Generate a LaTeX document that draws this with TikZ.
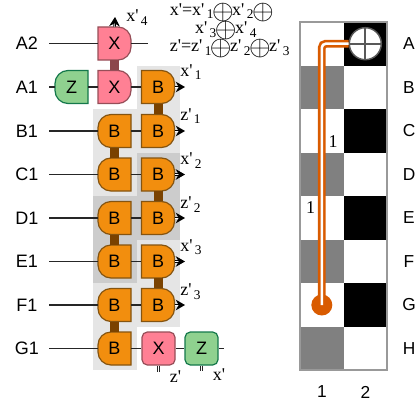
\documentclass[tikz,border=0pt]{standalone}
\usepackage{fontspec}
\setmainfont{Liberation Serif}
\setsansfont{Liberation Sans}
\usetikzlibrary{arrows.meta, calc}
\definecolor{gateorange}{RGB}{242, 142, 14}
\definecolor{edgeorange}{RGB}{133, 84, 16}
\definecolor{gatepink}{RGB}{255, 128, 148}
\definecolor{edgepink}{RGB}{150, 78, 88}
\definecolor{gategreen}{RGB}{143, 209, 143}
\definecolor{edgegreen}{RGB}{20, 120, 75}
\definecolor{barbrown}{RGB}{122, 66, 0}
\definecolor{barpink}{RGB}{140, 70, 75}
\definecolor{panellight}{RGB}{229, 229, 229}
\definecolor{paneldark}{RGB}{204, 204, 204}
\definecolor{cellgray}{RGB}{128, 128, 128}
\definecolor{routeorange}{RGB}{217, 91, 0}
\tikzset{
    gatetext/.style={minimum size=24.75pt, inner sep=0pt, font=\sffamily\fontsize{13.5}{15}\selectfont},
    orangegate/.style={draw=edgeorange, fill=gateorange, line width=0.9pt},
    pinkgate/.style={draw=edgepink, fill=gatepink, line width=0.9pt},
    greengate/.style={draw=edgegreen, fill=gategreen, line width=0.9pt},
    roundbox/.style={gatetext, rounded corners=4pt},
    rowlabel/.style={font=\sffamily\fontsize{13.5}{15}\selectfont, minimum width=33pt, inner sep=0pt},
    gridlabel/.style={font=\sffamily\fontsize{13}{15}\selectfont, inner sep=0pt},
    wire/.style={line width=0.9pt, color=black!85},
    outwire/.style={line width=0.7pt, double=white, double distance=0.4pt, color=black, -{Stealth[length=7pt, width=8pt]}},
    endwire/.style={line width=0.5pt, double=white, double distance=1pt, color=black!85},
    brownbar/.style={line width=6.75pt, color=barbrown},
    pinkbar/.style={line width=6.75pt, color=barpink},
    qubit/.style={font=\fontsize{13.5}{14}\selectfont, inner sep=0pt, anchor=base west},
    route/.style={line width=2pt, double=white, double distance=1.9pt, color=routeorange, rounded corners=3pt},
}
\newcommand{\pr}{\textquotesingle}
\newcommand{\qb}[2]{#1\pr\hspace{1.8pt}\raisebox{-0.45ex}{\fontsize{10}{12}\selectfont #2}}
\newcommand{\xor}{\hspace{-1.1pt}\smash{\raisebox{-0.5ex}{\scalebox{1.45}{$\oplus$}}}\hspace{-1.1pt}}
% gate with flat left side, round right side
\newcommand{\gateR}[4]{
    \path[#4] (#2) ++(-16.5,16.5) -- ++(20,0) arc[start angle=90, end angle=0, radius=13]
        -- ++(0,-7) arc[start angle=0, end angle=-90, radius=13] -- ++(-20,0) -- cycle;
    \node[gatetext] (#1) at (#2) {#3};
}
% gate with flat right side, round left side
\newcommand{\gateL}[4]{
    \path[#4] (#2) ++(16.5,16.5) -- ++(-20,0) arc[start angle=90, end angle=180, radius=13]
        -- ++(0,-7) arc[start angle=180, end angle=270, radius=13] -- ++(20,0) -- cycle;
    \node[gatetext] (#1) at (#2) {#3};
}
\begin{document}
\begin{tikzpicture}[x=0.75pt, y=0.75pt]
    \useasboundingbox (0,0) rectangle (420,408);

    % panels
    \fill[panellight] (137,342) rectangle (180,255);
    \fill[panellight] (93,299) rectangle (137,212);
    \fill[paneldark] (137,255) rectangle (180,168);
    \fill[paneldark] (93,212) rectangle (137,125);
    \fill[panellight] (137,168) rectangle (180,81);
    \fill[panellight] (93,125) rectangle (137,38);

    % row labels
    \node[rowlabel] (lA2) at (27,364.5) {A2};
    \node[rowlabel] (lA1) at (27,321) {A1};
    \node[rowlabel] (lB1) at (27,277) {B1};
    \node[rowlabel] (lC1) at (27,233.5) {C1};
    \node[rowlabel] (lD1) at (27,190) {D1};
    \node[rowlabel] (lE1) at (27,146.5) {E1};
    \node[rowlabel] (lF1) at (27,103) {F1};
    \node[rowlabel] (lG1) at (27,59.5) {G1};

    % gates
    \gateR{xa2}{114.5,364.5}{X}{pinkgate}
    \gateR{xa1}{114.5,321}{X}{pinkgate}
    \gateL{za1}{71.5,321}{Z}{greengate}
    \gateR{ba}{158,321}{B}{orangegate}
    \gateR{bb}{158,277}{B}{orangegate}
    \gateR{bc}{158,233.5}{B}{orangegate}
    \gateR{bd}{158,190}{B}{orangegate}
    \gateR{be}{158,146.5}{B}{orangegate}
    \gateR{bf}{158,103}{B}{orangegate}
    \gateL{cb}{114.5,277}{B}{orangegate}
    \gateL{cc}{114.5,233.5}{B}{orangegate}
    \gateL{cd}{114.5,190}{B}{orangegate}
    \gateL{ce}{114.5,146.5}{B}{orangegate}
    \gateL{cf}{114.5,103}{B}{orangegate}
    \gateL{cg}{114.5,59.5}{B}{orangegate}
    \node[roundbox, pinkgate] (xg) at (158.5,59.5) {X};
    \node[roundbox, greengate] (zg) at (201.5,59.5) {Z};

    % bars
    \draw[pinkbar] (xa2.south) -- (xa1.north);
    \draw[brownbar] (ba.south) -- (bb.north);
    \draw[brownbar] (cb.south) -- (cc.north);
    \draw[brownbar] (bc.south) -- (bd.north);
    \draw[brownbar] (cd.south) -- (ce.north);
    \draw[brownbar] (be.south) -- (bf.north);
    \draw[brownbar] (cf.south) -- (cg.north);

    % free wire ends
    \coordinate (a2out) at (148,364.5);
    \coordinate (a2top) at (115,391);
    \coordinate (o1) at (185,321);
    \coordinate (o2) at (185,277);
    \coordinate (o3) at (185,233.5);
    \coordinate (o4) at (185,190);
    \coordinate (o5) at (185,146.5);
    \coordinate (o6) at (185,103);
    \coordinate (gout) at (224,59.5);
    \coordinate (xend) at (158.5,36);
    \coordinate (zend) at (201.5,37.5);

    % wires
    \draw[wire] (lA2.east) -- (xa2.west);
    \draw[wire] (xa2.east) -- (a2out);
    \draw[wire] (lA1.east) -- (za1.west);
    \draw[wire] (za1.east) -- (xa1.west);
    \draw[wire] (xa1.east) -- (ba.west);
    \draw[wire] (lB1.east) -- (cb.west);
    \draw[wire] (cb.east) -- (bb.west);
    \draw[wire] (lC1.east) -- (cc.west);
    \draw[wire] (cc.east) -- (bc.west);
    \draw[wire] (lD1.east) -- (cd.west);
    \draw[wire] (cd.east) -- (bd.west);
    \draw[wire] (lE1.east) -- (ce.west);
    \draw[wire] (ce.east) -- (be.west);
    \draw[wire] (lF1.east) -- (cf.west);
    \draw[wire] (cf.east) -- (bf.west);
    \draw[wire] (lG1.east) -- (cg.west);
    \draw[wire] (cg.east) -- (xg.west);
    \draw[wire] (xg.east) -- (zg.west);
    \draw[wire] (zg.east) -- (gout);
    \draw[outwire] (xa2.north) -- (a2top);
    \draw[outwire] (ba.east) -- (o1);
    \draw[outwire] (bb.east) -- (o2);
    \draw[outwire] (bc.east) -- (o3);
    \draw[outwire] (bd.east) -- (o4);
    \draw[outwire] (be.east) -- (o5);
    \draw[outwire] (bf.east) -- (o6);
    \draw[endwire] (xg.south) -- (xend);
    \draw[endwire] (zg.south) -- (zend);

    % output labels
    \node[qubit] (x4) at (126,386) {\qb{x}{4}};
    \node[qubit] (x1) at (180,332) {\qb{x}{1}};
    \node[qubit] (z1) at (180,288) {\qb{z}{1}};
    \node[qubit] (x2) at (180,243.5) {\qb{x}{2}};
    \node[qubit] (z2) at (180,199.5) {\qb{z}{2}};
    \node[qubit] (x3) at (180,157) {\qb{x}{3}};
    \node[qubit] (z3) at (180,112.5) {\qb{z}{3}};
    \node[qubit] (zp) at (169.5,26) {z\pr};
    \node[qubit] (xp) at (212.5,28) {x\pr};

    % formula
    \node[font=\fontsize{13.5}{13.7}\selectfont, inner sep=0pt, align=left, anchor=north west] (formula) at (169.5,405) {x\pr=\qb{x}{1}\xor\qb{x}{2}\xor\\
        \hspace*{19pt}\qb{x}{3}\xor\qb{x}{4}\\
        z\pr=\qb{z}{1}\xor\qb{z}{2}\xor\qb{z}{3}};

    % grid
    \foreach \row/\rowy/\colA/\colB in {A/386/white/black, B/342.5/cellgray/white, C/299/white/black, D/255.5/cellgray/white, E/212/white/black, F/168.5/cellgray/white, G/125/white/black, H/81.5/cellgray/white}{
        \fill[\colA] (300,\rowy) rectangle ++(43.5,-43.5);
        \fill[\colB] (343.5,\rowy) rectangle ++(43.5,-43.5);
        \node[gridlabel] (row\row) at (409,\rowy-21.75) {\row};
    }
    \draw[black!40, line width=1pt] (300,386) rectangle (387,38);
    \node[gridlabel] (col1) at (322,16) {1};
    \node[gridlabel] (col2) at (365.5,16) {2};
    \node[qubit, anchor=center] (ka) at (333,266) {1};
    \node[qubit, anchor=center] (kb) at (310.5,200) {1};

    % route
    \node[circle, fill=routeorange, minimum size=15.75pt, inner sep=0pt] (ctrl) at (321.8,103) {};
    \node[circle, draw=black!65, fill=white, line width=1.1pt, minimum size=24pt, inner sep=0pt] (tgt) at (365.3,364.3) {};
    \draw[black!65, line width=1.3pt] (tgt.north) -- (tgt.south);
    \draw[black!65, line width=1.3pt] (tgt.west) -- (tgt.east);
    \draw[route] (ctrl.center) |- (tgt.west);
\end{tikzpicture}
\end{document}
